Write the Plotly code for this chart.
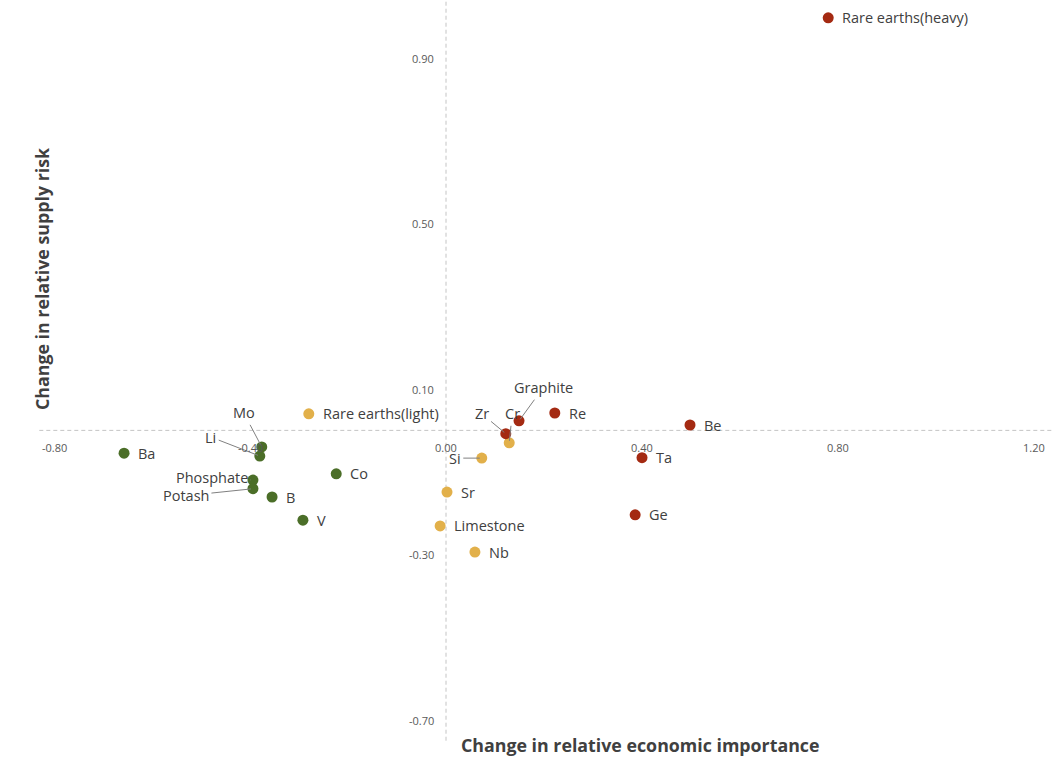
import plotly.graph_objects as go

# ---- data ----
green_names = ["Ba", "Mo", "Li", "Phosphate", "Potash", "B", "V", "Co"]
green_x = [-0.657, -0.376, -0.380, -0.394, -0.394, -0.355, -0.292, -0.224]
green_y = [-0.055, -0.040, -0.062, -0.120, -0.141, -0.161, -0.217, -0.105]

yellow_names = ["Rare earths(light)", "Cr", "Si", "Sr", "Limestone", "Nb"]
yellow_x = [-0.280, 0.129, 0.073, 0.002, -0.012, 0.059]
yellow_y = [0.040, -0.030, -0.067, -0.149, -0.231, -0.294]

red_names = ["Rare earths(heavy)", "Zr", "Graphite", "Re", "Be", "Ta", "Ge"]
red_x = [0.780, 0.122, 0.149, 0.222, 0.498, 0.400, 0.386]
red_y = [0.997, -0.008, 0.023, 0.042, 0.013, -0.066, -0.204]

x_ticks = [-0.80, -0.40, 0.00, 0.40, 0.80, 1.20]
y_ticks = [0.90, 0.50, 0.10, -0.30, -0.70]

x_title = "Change in relative economic importance"
y_title = "Change in relative supply risk"

# ---- styling ----
GREEN = "#4b6e28"
YELLOW = "#e2b04a"
RED = "#a42a12"
LABEL_COLOR = "#404040"
FONT = "Open Sans"
LABEL_SIZE = 14.5

# labels drawn with leader lines: (dx, dy) pixel offset of label from point
leader = {
    "Mo": (-18, -34),
    "Li": (-49, -19),
    "Phosphate": (-41, -3),
    "Potash": (-67, 7),
    "Zr": (-24, -20),
    "Cr": (3, -29),
    "Graphite": (24, -33),
    "Si": (-27, 0),
}

XR = [-0.9102, 1.2367]
YR = [-0.7918, 1.0402]

fig = go.Figure()
for names, xs, ys, col in [(green_names, green_x, green_y, GREEN),
                           (yellow_names, yellow_x, yellow_y, YELLOW),
                           (red_names, red_x, red_y, RED)]:
    fig.add_trace(go.Scatter(x=xs, y=ys, mode="markers",
                             marker=dict(size=11, color=col, line=dict(width=0)),
                             hovertext=names, showlegend=False))

annotations = []
for names, xs, ys in [(green_names, green_x, green_y),
                      (yellow_names, yellow_x, yellow_y),
                      (red_names, red_x, red_y)]:
    for n, x, y in zip(names, xs, ys):
        if n in leader:
            dx, dy = leader[n]
            annotations.append(dict(x=x, y=y, xref="x", yref="y", text=n,
                                    showarrow=True, arrowhead=0, arrowwidth=1,
                                    arrowcolor="#808080", ax=dx, ay=dy,
                                    standoff=2, startstandoff=1,
                                    font=dict(family=FONT, size=LABEL_SIZE, color=LABEL_COLOR)))
        else:
            annotations.append(dict(x=x, y=y, xref="x", yref="y", text=n,
                                    showarrow=False, xanchor="left", xshift=12,
                                    font=dict(family=FONT, size=LABEL_SIZE, color=LABEL_COLOR)))

for t in x_ticks:
    annotations.append(dict(x=t, y=0, xref="x", yref="y", text=f"{t:.2f}",
                            showarrow=False, xanchor="center", yanchor="middle",
                            yshift=-17, font=dict(family=FONT, size=11, color="#595959")))
for t in y_ticks:
    annotations.append(dict(x=0, y=t, xref="x", yref="y", text=f"{t:.2f}",
                            showarrow=False, xanchor="right", yanchor="middle",
                            xshift=-10, font=dict(family=FONT, size=11, color="#595959")))

annotations.append(dict(x=640 / 1052, y=1 - 745 / 758, xref="paper", yref="paper",
                        text=f"<b>{x_title}</b>", showarrow=False,
                        xanchor="center", yanchor="middle",
                        font=dict(family=FONT, size=17.8, color=LABEL_COLOR)))
annotations.append(dict(x=42 / 1052, y=1 - 279 / 758, xref="paper", yref="paper",
                        text=f"<b>{y_title}</b>", showarrow=False, textangle=-90,
                        xanchor="center", yanchor="middle",
                        font=dict(family=FONT, size=17.8, color=LABEL_COLOR)))

shapes = [
    dict(type="line", xref="x", yref="y", x0=-0.83, x1=XR[1], y0=0, y1=0,
         line=dict(color="#c4c4c4", width=1, dash="4px,3px"), layer="below"),
    dict(type="line", xref="x", yref="y", x0=0, x1=0, y0=-0.75, y1=YR[1],
         line=dict(color="#c4c4c4", width=1, dash="4px,3px"), layer="below"),
]

fig.update_layout(
    width=1052, height=758,
    margin=dict(l=0, r=0, t=0, b=0),
    paper_bgcolor="white", plot_bgcolor="white",
    xaxis=dict(range=XR, showgrid=False, zeroline=False, showticklabels=False,
               showline=False, ticks=""),
    yaxis=dict(range=YR, showgrid=False, zeroline=False, showticklabels=False,
               showline=False, ticks=""),
    annotations=annotations, shapes=shapes,
)

fig.write_html("out.html", config={"displayModeBar": False},
               post_script="document.body.style.margin='0';document.body.style.overflow='hidden';")
